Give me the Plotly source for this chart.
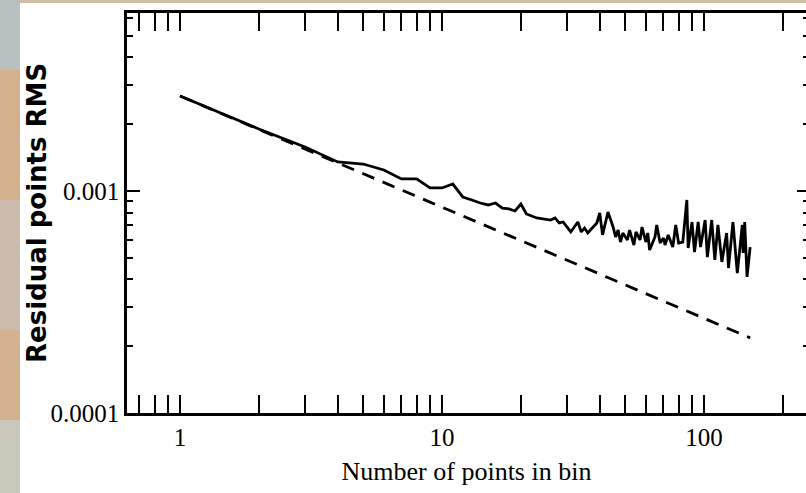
import plotly.graph_objects as go

# ---- data ----
bin_n = [1, 2, 3, 4, 5, 6, 7, 8, 9, 10, 11, 12, 13, 14, 15, 16, 17, 18, 19, 20,
         21, 22, 23, 26, 27, 28, 29, 31, 33, 34, 35, 36, 39, 40, 41, 43, 45, 46, 47, 48,
         49, 51, 52, 54, 55, 57, 58, 60, 61, 62, 65, 66, 68, 70, 71, 73, 76, 78, 80, 83,
         86, 87, 90, 92, 95, 97, 101, 103, 107, 110, 113, 117, 122, 124, 129, 134, 140, 141, 143, 146,
         150]
rms = [2.679e-3, 1.902e-3, 1.578e-3, 1.351e-3, 1.323e-3, 1.243e-3, 1.133e-3, 1.133e-3, 1.032e-3, 1.032e-3,
       1.075e-3, 0.940e-3, 0.911e-3, 0.883e-3, 0.865e-3, 0.883e-3, 0.838e-3, 0.830e-3, 0.813e-3, 0.874e-3,
       0.788e-3, 0.772e-3, 0.756e-3, 0.740e-3, 0.756e-3, 0.718e-3, 0.725e-3, 0.654e-3, 0.725e-3, 0.654e-3,
       0.681e-3, 0.647e-3, 0.718e-3, 0.796e-3, 0.634e-3, 0.804e-3, 0.688e-3, 0.621e-3, 0.667e-3, 0.589e-3,
       0.647e-3, 0.602e-3, 0.667e-3, 0.571e-3, 0.654e-3, 0.602e-3, 0.688e-3, 0.589e-3, 0.647e-3, 0.542e-3,
       0.621e-3, 0.703e-3, 0.583e-3, 0.614e-3, 0.571e-3, 0.634e-3, 0.559e-3, 0.703e-3, 0.583e-3, 0.589e-3,
       0.911e-3, 0.554e-3, 0.725e-3, 0.531e-3, 0.725e-3, 0.559e-3, 0.740e-3, 0.504e-3, 0.740e-3, 0.489e-3,
       0.703e-3, 0.479e-3, 0.647e-3, 0.450e-3, 0.725e-3, 0.427e-3, 0.703e-3, 0.526e-3, 0.725e-3, 0.410e-3,
       0.559e-3]

ideal_n = [1, 150]
ideal_rms = [2.679e-3, 2.18e-4]

x_tick_vals = [1, 10, 100]
x_tick_text = ["1", "10", "100"]
y_tick_vals = [1e-4, 1e-3]
y_tick_text = ["0.0001", "0.001"]

x_minor = [m * 10 ** e for e in (-1, 0, 1, 2) for m in range(2, 10)]
y_minor = [m * 10 ** e for e in (-4, -3) for m in range(2, 10)]

W, H = 806, 493
L, R, T, B = 127, 0, 13, 80
XPX0, XDEC = 180, 262      # pixel of x=1, pixels per decade
YPX0, YDEC = 413, 222      # pixel of y=1e-4, pixels per decade

x_range = [(L - XPX0) / XDEC, (W - R - XPX0) / XDEC]
y_range = [-4, -4 + (YPX0 - T) / YDEC]

fig = go.Figure()
fig.add_trace(go.Scatter(x=ideal_n, y=ideal_rms, mode="lines",
                         line=dict(color="black", width=2.8, dash="13px,9px"),
                         hoverinfo="skip", showlegend=False))
fig.add_trace(go.Scatter(x=bin_n, y=rms, mode="lines",
                         line=dict(color="black", width=2.8),
                         showlegend=False))
# invisible trace to anchor the right-hand tick axis
fig.add_trace(go.Scatter(x=[1], y=[1e-3], yaxis="y2", mode="markers",
                         marker=dict(opacity=0), hoverinfo="skip", showlegend=False))

tickfont = dict(family="Liberation Serif", size=25, color="black")

fig.update_layout(
    width=W, height=H,
    margin=dict(l=L, r=R, t=T, b=B),
    paper_bgcolor="#d2bea6",
    plot_bgcolor="white",
    xaxis=dict(type="log", range=x_range, showgrid=False, zeroline=False,
               showline=True, linecolor="black", linewidth=2.5, mirror="allticks",
               ticks="inside", ticklen=18, tickwidth=2, tickcolor="black",
               tickvals=x_tick_vals, ticktext=x_tick_text, tickfont=tickfont,
               minor=dict(tickvals=x_minor, ticks="inside", ticklen=9, tickwidth=2,
                          tickcolor="black", showgrid=False),
               title=dict(text="Number of points in bin",
                          font=dict(family="Liberation Serif", size=26, color="black"),
                          standoff=13)),
    yaxis=dict(type="log", range=y_range, showgrid=False, zeroline=False,
               showline=True, linecolor="black", linewidth=2.5, mirror=False,
               ticks="inside", ticklen=13, tickwidth=2, tickcolor="black",
               tickvals=y_tick_vals, ticktext=y_tick_text, tickfont=tickfont,
               minor=dict(tickvals=y_minor, ticks="inside", ticklen=6, tickwidth=2,
                          tickcolor="black", showgrid=False)),
    yaxis2=dict(type="log", range=y_range, overlaying="y", side="right", anchor="x",
                showgrid=False, zeroline=False, showline=False, showticklabels=False,
                ticks="inside", ticklen=9, tickwidth=2, tickcolor="black",
                tickvals=y_tick_vals,
                minor=dict(tickvals=y_minor, ticks="inside", ticklen=3, tickwidth=2,
                           tickcolor="black", showgrid=False)),
)

# background: textured strip on the left/top, white panel
def px_x(p):
    return (p - L) / (W - L - R)

def px_y(p):
    return 1 - (p - T) / (H - T - B)

bands = [(0, 70, "#b9c1c0"), (70, 200, "#d4b08c"), (200, 330, "#cbbcae"),
         (330, 420, "#d3b290"), (420, 493, "#c9c6ba")]
for y0, y1, c in bands:
    fig.add_shape(type="rect", xref="paper", yref="paper",
                  x0=px_x(0), x1=px_x(20), y0=px_y(y1), y1=px_y(y0),
                  fillcolor=c, line=dict(width=0), layer="below")
fig.add_shape(type="rect", xref="paper", yref="paper",
              x0=px_x(20), x1=px_x(W), y0=px_y(H), y1=px_y(3),
              fillcolor="white", line=dict(width=0), layer="below")

fig.add_annotation(text="<b>Residual points RMS</b>", textangle=-90,
                   xref="paper", yref="paper", x=px_x(37), y=px_y(213),
                   xanchor="center", yanchor="middle", showarrow=False,
                   font=dict(family="DejaVu Sans", size=26, color="black"))

fig.write_html("out.html")
